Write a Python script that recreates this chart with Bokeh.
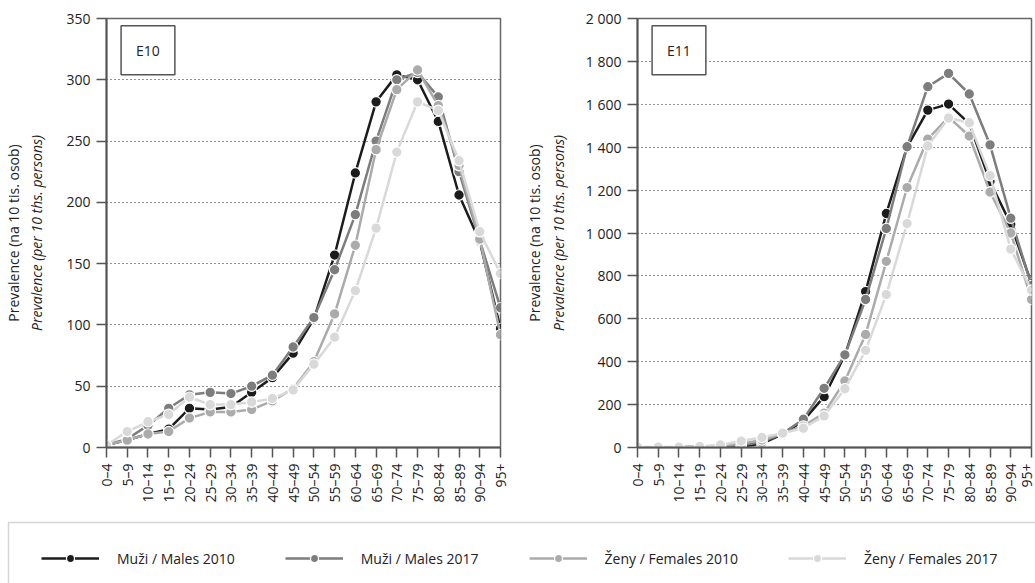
import math
from bokeh.plotting import figure
from bokeh.models import (Range1d, FixedTicker, Title, Label, Legend, LegendItem,
                          BoxAnnotation, ColumnDataSource)
from bokeh.layouts import column, row
from bokeh.embed import file_html
from bokeh.resources import INLINE

# ---------------- data ----------------
categories = ["0–4", "5–9", "10–14", "15–19", "20–24", "25–29", "30–34", "35–39",
              "40–44", "45–49", "50–54", "55–59", "60–64", "65–69", "70–74",
              "75–79", "80–84", "85–89", "90–94", "95+"]

series_names = ["Muži / Males 2010", "Muži / Males 2017",
                "Ženy / Females 2010", "Ženy / Females 2017"]

# E10
e10_males_2010 = [2, 6, 11, 15, 32, 31, 33, 45, 57, 77, 105, 157, 224, 282, 304, 300, 266, 206, 168, 97]
e10_males_2017 = [2, 7, 18, 32, 43, 45, 44, 50, 59, 82, 106, 145, 190, 250, 300, 306, 286, 225, 169, 114]
e10_females_2010 = [2, 6, 11, 13, 24, 29, 29, 31, 38, 48, 70, 109, 165, 243, 292, 308, 279, 230, 170, 92]
e10_females_2017 = [2, 13, 21, 27, 41, 35, 35, 37, 40, 47, 68, 90, 128, 179, 241, 282, 275, 234, 176, 142]

# E11
e11_males_2010 = [1, 1, 1, 3, 6, 5, 18, 62, 125, 237, 430, 727, 1091, 1400, 1573, 1601, 1510, 1240, 1041, 765]
e11_males_2017 = [1, 1, 1, 3, 7, 10, 25, 65, 132, 276, 432, 690, 1021, 1402, 1682, 1744, 1648, 1411, 1069, 755]
e11_females_2010 = [1, 1, 1, 4, 9, 18, 35, 65, 100, 160, 310, 527, 868, 1212, 1438, 1540, 1452, 1191, 1000, 690]
e11_females_2017 = [2, 2, 2, 5, 12, 30, 47, 67, 90, 147, 274, 453, 713, 1044, 1406, 1536, 1514, 1267, 925, 734]

e10_ticks = [0, 50, 100, 150, 200, 250, 300, 350]
e11_ticks = [0, 200, 400, 600, 800, 1000, 1200, 1400, 1600, 1800, 2000]

colors = ["#1c1c1c", "#7d7d7d", "#ababab", "#d9d9d9"]
FONT = "Open Sans"
TXT = "#222222"


def fmt(v):
    return f"{v:,}".replace(",", " ")


def make_fig(code, series, ticks, width, left, right, code_y, label_standoff):
    x = list(range(len(categories)))
    p = figure(width=width, height=515, x_range=Range1d(0, len(categories) - 1),
               y_range=Range1d(ticks[0], ticks[-1]), output_backend="svg",
               toolbar_location=None, min_border_left=left, min_border_right=right,
               min_border_top=18, min_border_bottom=68)
    p.background_fill_color = "white"
    p.border_fill_color = "white"
    p.outline_line_color = "#666666"
    p.outline_line_width = 1.5

    p.xaxis.ticker = FixedTicker(ticks=x)
    p.xaxis.major_label_overrides = {i: c for i, c in enumerate(categories)}
    p.xaxis.major_label_orientation = math.pi / 2
    p.yaxis.ticker = FixedTicker(ticks=ticks)
    p.yaxis.major_label_overrides = {t: fmt(t) for t in ticks}
    for ax in (p.xaxis, p.yaxis):
        ax.major_tick_out = 10
        ax.major_tick_in = 0
        ax.minor_tick_line_color = None
        ax.axis_line_color = "#555555"
        ax.axis_line_width = 2
        ax.major_tick_line_color = "#555555"
        ax.major_tick_line_width = 1.5
        ax.major_label_text_font = FONT
        ax.major_label_text_font_size = "14px"
        ax.major_label_text_color = TXT
        ax.major_label_standoff = 6
    p.yaxis.axis_label = "Prevalence (per 10 ths. persons)"
    p.yaxis.axis_label_text_font = FONT
    p.yaxis.axis_label_text_font_size = "14px"
    p.yaxis.axis_label_text_font_style = "italic"
    p.yaxis.axis_label_text_color = TXT
    p.yaxis.axis_label_standoff = label_standoff
    p.xgrid.visible = False
    p.ygrid.grid_line_color = "#222222"
    p.ygrid.grid_line_dash = "1 3"
    p.ygrid.grid_line_width = 1

    for ys, c in zip(series, colors):
        src = ColumnDataSource(dict(x=x, y=ys))
        p.line("x", "y", source=src, line_color=c, line_width=2.5)
        p.scatter("x", "y", source=src, size=10.5, fill_color=c, line_color="white",
                  line_width=1.2)

    p.add_layout(Label(x=2.0, y=code_y, text=code, text_align="center",
                       text_baseline="middle", text_font=FONT, text_font_size="14px",
                       text_color=TXT, border_line_color="#555555", border_line_width=1.5,
                       background_fill_color="white", padding=15))

    p.add_layout(Title(text="Prevalence (na 10 tis. osob)", align="center",
                       text_font=FONT, text_font_size="14px", text_font_style="normal",
                       text_color=TXT, standoff=3), "left")
    return p


p1 = make_fig("E10", [e10_males_2010, e10_males_2017, e10_females_2010, e10_females_2017],
              e10_ticks, 520, 106, 20, 324, 17)
p2 = make_fig("E11", [e11_males_2010, e11_males_2017, e11_females_2010, e11_females_2017],
              e11_ticks, 515, 117, 4, 1852, 15)

# ---------------- legend strip ----------------
p3 = figure(width=1035, height=68, x_range=Range1d(0, 1035), y_range=Range1d(0, 68),
            x_axis_type=None, y_axis_type=None, output_backend="svg",
            toolbar_location=None, min_border=0)
p3.grid.visible = False
p3.outline_line_color = None
p3.background_fill_color = "white"
p3.border_fill_color = "white"

nan = float("nan")
items = []
for name, c in zip(series_names, colors):
    src = ColumnDataSource(dict(x=[nan], y=[nan]))
    rl = p3.line("x", "y", source=src, line_color=c, line_width=2.5)
    rs = p3.scatter("x", "y", source=src, size=9, fill_color=c, line_color="white",
                    line_width=1.2)
    items.append(LegendItem(label=name, renderers=[rl, rs]))

legend = Legend(items=items, orientation="horizontal", location=(41, 15),
                border_line_color=None, background_fill_alpha=0, glyph_width=58,
                glyph_height=20, label_standoff=18, spacing=50, padding=0, margin=0,
                label_text_font=FONT, label_text_font_size="14px", label_text_color=TXT)
p3.add_layout(legend)
p3.add_layout(BoxAnnotation(left=8, right=3000, top=61, bottom=-200, fill_alpha=0,
                            line_color="#777777", line_width=1.5))

layout = column(row(p1, p2), p3)
open("out.html", "w").write(file_html(layout, INLINE))
